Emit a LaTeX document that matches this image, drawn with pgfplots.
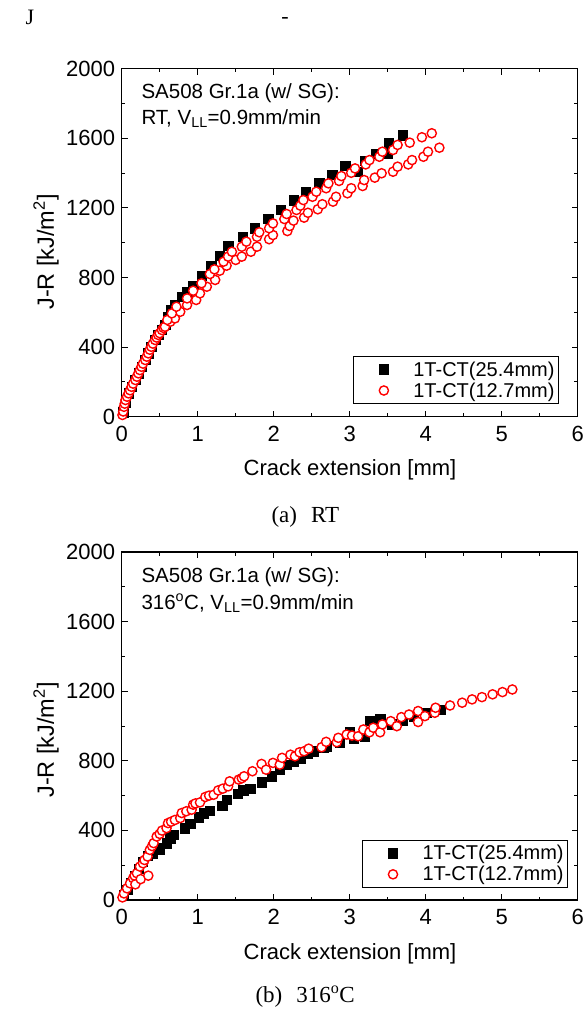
\documentclass[border=0pt]{standalone}
\usepackage{fontspec}
\setmainfont{Liberation Sans}
\newfontfamily\timesf{Liberation Serif}
\usepackage{pgfplots}
\pgfplotsset{compat=1.18}

\pgfplotstableread{
x y
0.02 25
0.05 80
0.09 134
0.13 172
0.18 211
0.22 249
0.26 287
0.31 326
0.35 364
0.39 402
0.44 441
0.48 470
0.53 500
0.57 530
0.61 575
0.65 615
0.70 645
0.79 690
0.86 720
0.94 750
1.05 812
1.18 866
1.29 927
1.40 982
1.59 1035
1.75 1083
1.93 1138
2.09 1190
2.26 1245
2.42 1290
2.60 1341
2.77 1392
2.94 1442
3.10 1408
3.20 1472
3.35 1510
3.50 1515
3.51 1575
3.70 1619
}\rtblack

\pgfplotstableread{
x y
0.01 10
0.02 30
0.03 57
0.04 75
0.05 96
0.07 115
0.09 134
0.11 152
0.13 172
0.15 190
0.18 211
0.20 230
0.22 249
0.24 268
0.26 287
0.28 305
0.31 326
0.33 345
0.35 364
0.37 385
0.39 402
0.41 420
0.44 441
0.46 455
0.48 470
0.50 480
0.53 498
0.55 510
0.57 517
0.64 546
0.70 565
0.77 603
0.86 642
0.98 671
1.03 709
1.12 747
1.23 786
1.29 839
1.38 868
1.50 901
1.58 920
1.70 948
1.78 977
1.94 1020
1.99 1044
2.18 1067
2.21 1096
2.26 1127
2.40 1144
2.45 1172
2.58 1192
2.64 1221
2.78 1236
2.82 1264
2.97 1284
3.02 1313
3.17 1326
3.19 1360
3.33 1374
3.42 1399
3.57 1408
3.63 1437
3.77 1450
3.82 1475
3.97 1494
4.03 1523
4.18 1546
0.60 556
0.66 594
0.72 632
0.86 680
0.94 724
1.05 767
1.16 820
1.22 847
1.34 891
1.40 920
1.45 948
1.58 977
1.64 1006
1.78 1034
1.81 1060
1.94 1083
1.99 1111
2.14 1136
2.17 1165
2.30 1188
2.35 1213
2.39 1245
2.51 1264
2.56 1293
2.69 1313
2.72 1341
2.86 1355
2.89 1383
3.02 1402
3.07 1427
3.21 1450
3.26 1475
3.39 1494
3.43 1523
3.57 1533
3.63 1562
3.79 1575
3.95 1606
4.08 1629
}\rtred

\pgfplotstableread{
x y
0.03 30
0.07 60
0.12 100
0.17 140
0.22 180
0.28 220
0.34 255
0.40 270
0.48 298
0.50 288
0.59 327
0.64 355
0.68 375
0.83 413
0.90 440
1.01 475
1.08 500
1.16 515
1.32 542
1.38 576
1.53 610
1.60 630
1.69 641
1.84 677
1.97 711
2.08 750
2.17 778
2.26 797
2.35 812
2.45 840
2.52 855
2.65 874
2.70 884
2.87 903
3.00 965
3.05 926
3.20 941
3.27 1030
3.40 1042
3.55 1010
3.70 1030
3.84 1057
4.01 1076
4.14 1095
4.19 1095
}\htblack

\pgfplotstableread{
x y
0.01 15
0.03 38
0.07 67
0.11 96
0.15 125
0.17 140
0.18 90
0.20 154
0.24 192
0.25 120
0.28 211
0.30 230
0.34 250
0.35 140
0.37 288
0.40 310
0.42 327
0.46 365
0.50 380
0.53 399
0.59 413
0.61 442
0.65 450
0.70 460
0.77 471
0.79 500
0.85 510
0.92 519
0.94 548
0.97 555
1.03 561
1.10 592
1.15 600
1.21 605
1.27 630
1.33 640
1.40 653
1.42 682
1.54 692
1.58 700
1.61 711
1.72 740
1.84 782
1.90 749
1.99 788
2.08 778
2.11 817
2.22 835
2.28 826
2.34 849
2.40 855
2.46 870
2.63 878
2.69 909
2.83 907
2.85 932
2.96 951
3.03 945
3.11 941
3.18 980
3.26 964
3.31 990
3.40 964
3.43 1009
3.54 1028
3.62 999
3.68 1051
3.78 1066
3.90 1023
3.90 1086
3.99 1057
4.12 1076
4.13 1105
4.32 1118
4.48 1134
4.61 1153
4.74 1166
4.88 1182
5.01 1195
5.14 1210
}\htred

\pgfplotsset{
  base/.style={
    scale only axis, width=456pt, height=348pt,
    xmin=0, xmax=6, ymin=0, ymax=2000,
    xtick={0,1,...,6}, ytick={0,400,...,2000},
    minor x tick num=1, minor y tick num=1,
    tick align=inside, xtick pos=both, ytick pos=both,
    major tick length=6pt, minor tick length=3.5pt,
    every tick/.style={black, line width=1pt},
    axis line style={line width=1.2pt},
    ticklabel style={font=\fontsize{22}{24}\selectfont},
    xticklabel style={yshift=-6pt},
    yticklabel style={xshift=-3pt},
    /pgf/number format/assume math mode=true,
    /pgf/number format/1000 sep={},
    clip=false,
    legend style={draw=black, line width=1pt, font=\fontsize{20}{22}\selectfont,
      inner xsep=2pt, inner ysep=3pt, row sep=1pt},
    legend cell align=left,
    legend image code/.code={\path (0pt,0pt) (55pt,0pt); \draw[##1] plot coordinates {(28pt,0pt)};},
  },
  blk/.style={only marks, mark=square*, mark size=4.7pt, mark options={black, fill=black}},
  rd/.style={only marks, mark=*, mark size=4.6pt, mark options={draw=red, fill=white, line width=1.4pt}},
}

\begin{document}
\begin{tikzpicture}
\useasboundingbox (0pt,0pt) rectangle (585pt,-1010pt);

\begin{axis}[base, at={(121.7pt,-416.7pt)}, anchor=south west,
  legend style={at={(0.959,0.0365)}, anchor=south east}]
\addplot[blk] table {\rtblack};
\addlegendentry{1T-CT(25.4mm)}
\addplot[rd] table {\rtred};
\addlegendentry{1T-CT(12.7mm)}
\end{axis}

\begin{axis}[base, at={(121.7pt,-900pt)}, anchor=south west,
  legend style={at={(0.979,0.035)}, anchor=south east}]
\addplot[blk] table {\htblack};
\addlegendentry{1T-CT(25.4mm)}
\addplot[rd] table {\htred};
\addlegendentry{1T-CT(12.7mm)}
\end{axis}

% annotations
\node[anchor=west, font=\fontsize{20.5}{22}\selectfont] at (138pt,-93pt) {SA508 Gr.1a (w/ SG):};
\node[anchor=west, font=\fontsize{20.5}{22}\selectfont] at (138pt,-119pt) {RT, V\textsubscript{LL}=0.9mm/min};
\node[anchor=west, font=\fontsize{20.5}{22}\selectfont] at (138pt,-577pt) {SA508 Gr.1a (w/ SG):};
\node[anchor=west, font=\fontsize{20.5}{22}\selectfont] at (138pt,-603pt) {316\textsuperscript{o}C, V\textsubscript{LL}=0.9mm/min};

% axis labels
\node[font=\fontsize{22}{24}\selectfont] at (350pt,-470pt) {Crack extension [mm]};
\node[font=\fontsize{23.5}{26}\selectfont, rotate=90] at (46pt,-252pt) {J-R [kJ/m\textsuperscript{2}]};
\node[font=\fontsize{22}{24}\selectfont] at (350pt,-954pt) {Crack extension [mm]};
\node[font=\fontsize{23.5}{26}\selectfont, rotate=90] at (46pt,-740pt) {J-R [kJ/m\textsuperscript{2}]};

% captions
\node[anchor=west, font=\timesf\fontsize{23}{26}\selectfont] at (268pt,-517pt) {(a)\hspace{14pt}RT};
\node[anchor=west, font=\timesf\fontsize{23}{26}\selectfont] at (252pt,-997pt) {(b)\hspace{14pt}316\textsuperscript{o}C};

% header
\node[font=\timesf\fontsize{22}{24}\selectfont] at (30pt,-17pt) {J};
\node[font=\timesf\fontsize{22}{24}\selectfont] at (285pt,-20pt) {-};
\end{tikzpicture}
\end{document}
